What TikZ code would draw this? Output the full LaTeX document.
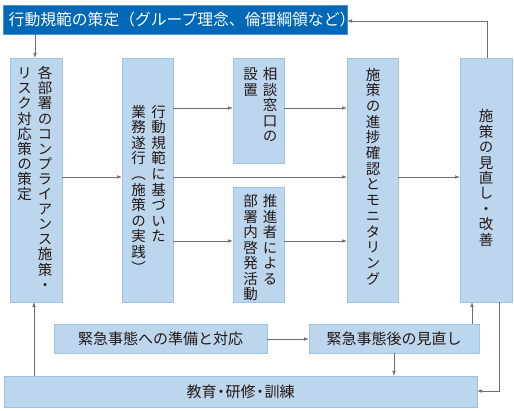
\documentclass[tikz,border=0pt]{standalone}
\usepackage{fontspec}
\usetikzlibrary{arrows.meta}
\newfontfamily\hfont{Noto Sans CJK JP}
\newfontfamily\vfont[RawFeature=+vert]{Noto Sans CJK JP}
\definecolor{boxfill}{HTML}{BCD6EE}
\definecolor{boxline}{HTML}{9DC3E6}
\definecolor{topblue}{HTML}{0068B7}
\definecolor{txt}{HTML}{231815}
\definecolor{arr}{HTML}{6E6E6E}
\ExplSyntaxOn
\NewDocumentCommand\vstack{O{15.5pt}m}{
  \vbox{\offinterlineskip
    \tl_map_inline:nn {#2} {
      \hbox to 1em{\vrule height #1 depth 0pt width 0pt\hss\raise\dimexpr(#1-1em)/2+0.12em\relax\hbox{##1}\hss}
    }
  }
}
\ExplSyntaxOff
\tikzset{
  box/.style={draw=boxline, fill=boxfill, line width=0.8pt},
  vtext/.style={anchor=north, inner sep=0pt, text=txt,
    font={\vfont\fontsize{14.5}{15}\selectfont}},
  htext/.style={inner sep=0pt, text=txt, font={\hfont\fontsize{15}{18}\selectfont}},
  conn/.style={draw=arr, line width=0.7pt, -{Latex[length=5pt,width=3.6pt]}},
}
\begin{document}
\begin{tikzpicture}[x=1pt,y=-1pt]
\useasboundingbox (0,0) rectangle (514,411);
% top bar
\path[fill=topblue, draw=topblue!70!white, line width=0.6pt] (3,5) rectangle (347,34);
\node[htext, text=white, anchor=west, font={\hfont\fontsize{15.8}{18}\selectfont}] (topt) at (8.5,19.5) {行動規範の策定（グループ理念、倫理綱領など）};
% columns
\path[box] (10,58) rectangle (62,302);
\path[box] (122,58) rectangle (173,302);
\path[box] (233,58) rectangle (284,163);
\path[box] (233,187) rectangle (284,302);
\path[box] (347,58) rectangle (398,302);
\path[box] (460,58) rectangle (512,302);
\node[vtext] (c1r) at (45,65.5) {\vstack[15.1pt]{各部署のコンプライアンス施策・}};
\node[vtext] (c1l) at (24.5,65.5) {\vstack[15.1pt]{リスク対応策の策定}};
\node[vtext] (c2r) at (158.5,103.5) {\vstack[15.6pt]{行動規範に基づいた}};
\node[vtext] (c2l) at (138.5,103.5) {\vstack[15.6pt]{業務遂行︵施策の実践︶}};
\node[vtext] (c3ar) at (270,66.5) {\vstack[15.5pt]{相談窓口の}};
\node[vtext] (c3al) at (250.5,66.5) {\vstack[15.5pt]{設置}};
\node[vtext] (c3br) at (270,193.5) {\vstack[15.5pt]{推進者による}};
\node[vtext] (c3bl) at (250.5,193.5) {\vstack[15.5pt]{部署内啓発活動}};
\node[vtext] (c4) at (373,66.5) {\vstack[15.7pt]{施策の進捗確認とモニタリング}};
\node[vtext] (c5) at (486,108.5) {\vstack[15.4pt]{施策の見直し・改善}};
% bottom boxes
\path[box] (54,324) rectangle (267,353);
\path[box] (309,324) rectangle (479,353);
\path[box] (4,376) rectangle (477,407);
\node[htext] (e1) at (160.5,339) {緊急事態への準備と対応};
\node[htext] (e2) at (394,339) {緊急事態後の見直し};
\node[htext] (edu) at (240.5,391.5) {教育\kern-3pt・\kern-3pt研修\kern-3pt・\kern-3pt訓練};
% box edge coordinates
\coordinate (topR) at (347,21);
\coordinate (topB) at (35,34);
\coordinate (c1T) at (35,58);
\coordinate (c1B) at (34,302);
\coordinate (c1R) at (62,177);
\coordinate (c2L) at (122,177);
\coordinate (c2Ra) at (173,108);
\coordinate (c2Rm) at (173,177);
\coordinate (c2Rb) at (173,241);
\coordinate (c3aL) at (233,108);
\coordinate (c3aR) at (284,108);
\coordinate (c3bL) at (233,241);
\coordinate (c3bR) at (284,241);
\coordinate (c4La) at (347,108);
\coordinate (c4Lm) at (347,177);
\coordinate (c4Lb) at (347,241);
\coordinate (c4R) at (398,177);
\coordinate (c5L) at (460,177);
\coordinate (c5T) at (487,58);
\coordinate (c5Ba) at (472,302);
\coordinate (c5Bb) at (499,302);
\coordinate (e1R) at (267,339);
\coordinate (e2L) at (309,339);
\coordinate (e2T) at (472,324);
\coordinate (e2B) at (394,353);
\coordinate (eduT) at (394,376);
\coordinate (eduTL) at (34,376);
\coordinate (eduR) at (477,391);
% connectors
\draw[conn] (topB) -- (c1T);
\draw[conn] (c5T) |- (topR);
\draw[conn] (c1R) -- (c2L);
\draw[conn] (c2Ra) -- (c3aL);
\draw[conn] (c2Rm) -- (c4Lm);
\draw[conn] (c2Rb) -- (c3bL);
\draw[conn] (c3aR) -- (c4La);
\draw[conn] (c3bR) -- (c4Lb);
\draw[conn] (c4R) -- (c5L);
\draw[conn] (e1R) -- (e2L);
\draw[conn] (e2B) -- (eduT);
\draw[conn] (e2T) -- (c5Ba);
\draw[conn] (c5Bb) |- (eduR);
\draw[conn] (eduTL) -- (c1B);
\end{tikzpicture}
\end{document}
